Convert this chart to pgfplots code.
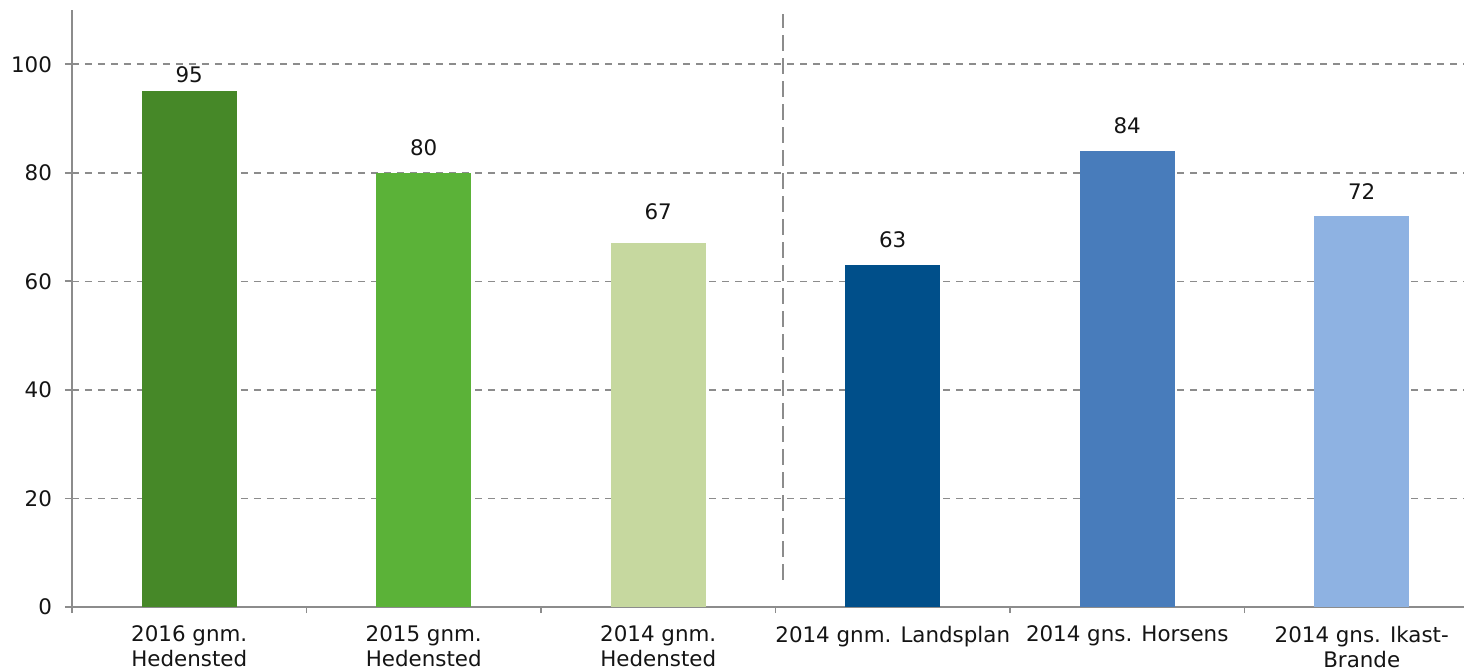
\documentclass[border=0pt]{standalone}
\usepackage{fontspec}
\setmainfont{DejaVu Sans}
\usepackage{pgfplots}
\pgfplotsset{compat=1.18}
\definecolor{axisgray}{RGB}{140,140,140}
\definecolor{gridgray}{RGB}{140,140,140}
\definecolor{txt}{RGB}{20,20,20}
\definecolor{c1}{RGB}{70,136,40}
\definecolor{c2}{RGB}{91,178,56}
\definecolor{c3}{RGB}{198,216,159}
\definecolor{c4}{RGB}{0,79,138}
\definecolor{c5}{RGB}{72,124,187}
\definecolor{c6}{RGB}{142,178,226}
\begin{document}
\begin{tikzpicture}
\clip (-36pt,-32pt) rectangle (696pt,303.5pt);
\begin{axis}[
  scale only axis, width=703.5pt, height=298.5pt,
  xmin=-0.5, xmax=5.5, ymin=0, ymax=110,
  axis x line*=bottom, axis y line*=left,
  axis line style={draw=axisgray, line width=0.9pt, -},
  tick style={draw=axisgray, line width=0.9pt},
  tick align=outside,
  major tick length=3.5pt, minor tick length=3pt,
  ytick={0,20,...,100},
  xtick={0,...,5},
  major x tick style={draw=none},
  minor xtick={-0.5,0.5,...,5.5},
  xticklabels={{2016 gnm.\\Hedensted},{2015 gnm.\\Hedensted},{2014 gnm.\\Hedensted},{2014 gnm. Landsplan},{2014 gns. Horsens},{2014 gns. Ikast-\\Brande}},
  xticklabel style={align=center, font=\fontsize{10.7}{12.5}\selectfont, text=txt, yshift=-2.5pt},
  yticklabel style={font=\fontsize{10.7}{12}\selectfont, text=txt, xshift=-3pt},
  /pgf/number format/assume math mode=true,
  ymajorgrids,
  grid style={draw=gridgray, line width=0.8pt, dash pattern=on 3.5pt off 3pt},
  ybar, bar width=47.5pt,
  nodes near coords,
  every node near coord/.append style={font=\fontsize{10.7}{12}\selectfont, text=txt},
  clip=false,
]
\addplot[fill=c1, draw=none, bar shift=0pt, every node near coord/.append style={yshift=1pt}] coordinates {(0,95)};
\addplot[fill=c2, draw=none, bar shift=0pt, every node near coord/.append style={yshift=5pt}] coordinates {(1,80)};
\addplot[fill=c3, draw=none, bar shift=0pt, every node near coord/.append style={yshift=8.5pt}] coordinates {(2,67)};
\addplot[fill=c4, draw=none, bar shift=0pt, every node near coord/.append style={yshift=5pt}] coordinates {(3,63)};
\addplot[fill=c5, draw=none, bar shift=0pt, every node near coord/.append style={yshift=5pt}] coordinates {(4,84)};
\addplot[fill=c6, draw=none, bar shift=0pt, every node near coord/.append style={yshift=5pt}] coordinates {(5,72)};
\addplot[sharp plot, no marks, draw=axisgray, line width=0.9pt, dash pattern=on 8pt off 3.5pt, nodes near coords={}] coordinates {(2.532,5) (2.532,109.2)};
\end{axis}
\end{tikzpicture}
\end{document}
